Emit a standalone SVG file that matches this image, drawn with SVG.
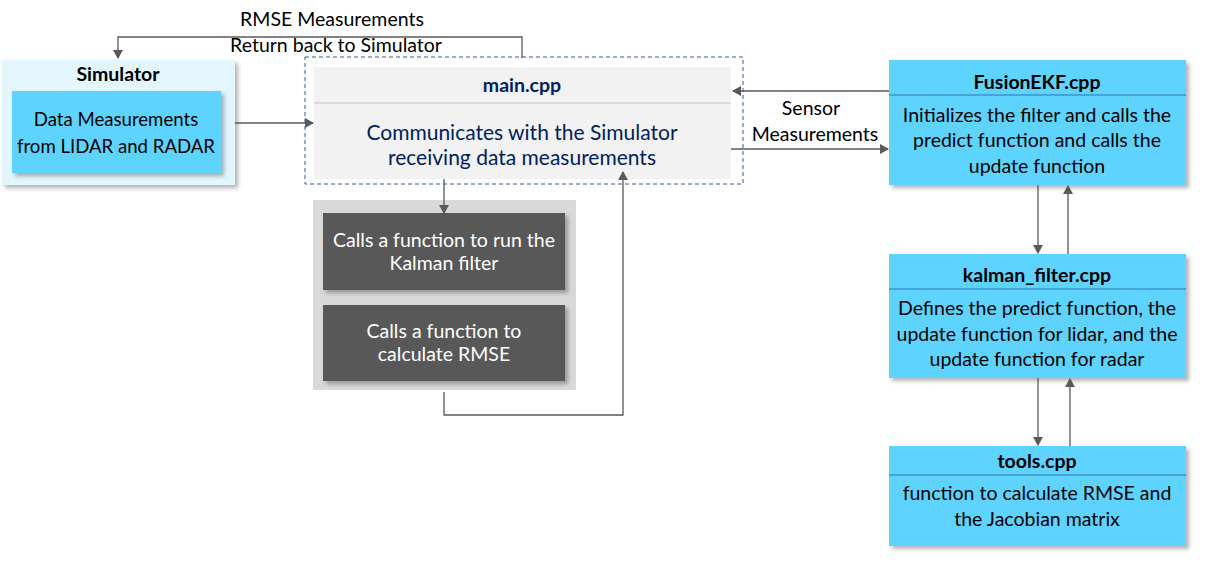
<svg xmlns="http://www.w3.org/2000/svg" width="1208" height="564" viewBox="0 0 1208 564">
<style>
text{font-family:Lato,"Open Sans","Liberation Sans",sans-serif;text-anchor:middle}
.t{font-size:19.5px;fill:#000}
.s{font-size:18.6px;fill:#000}
.b{font-size:19.5px;font-weight:bold;fill:#000}
.w{font-size:19.5px;fill:#fff}
.n{font-size:21px;fill:#002060}
.nb{font-size:19.5px;font-weight:bold;fill:#002060}
.c{fill:none;stroke:#595959;stroke-width:1.3}
.blue{fill:#5DD3FE}
.div{stroke:#2E75B6;stroke-width:1.2}
</style>
<defs>
<marker id="ah" markerWidth="10" markerHeight="10" refX="8" refY="5" orient="auto" markerUnits="userSpaceOnUse">
<path d="M0,0 L9,5 L0,10 Z" fill="#595959"/>
</marker>
<filter id="sh" x="-5%" y="-5%" width="115%" height="120%">
<feDropShadow dx="3" dy="3" stdDeviation="2" flood-color="#000" flood-opacity="0.3"/>
</filter>
</defs>
<rect width="1208" height="564" fill="#fff"/>

<g id="simulator">
<rect x="2" y="60" width="233" height="125" fill="#E3F5FD" filter="url(#sh)"/>
<text class="b" x="118" y="81">Simulator</text>
<rect x="12" y="91" width="209" height="82" class="blue" filter="url(#sh)"/>
<text class="s" x="116" y="126">Data Measurements</text>
<text class="s" x="116" y="153">from LIDAR and RADAR</text>
</g>

<g id="main">
<rect x="305" y="57" width="438" height="127" fill="none" stroke="#2E5C9E" stroke-width="1" stroke-dasharray="4,3"/>
<rect x="314" y="67" width="417" height="112" fill="#F2F2F2"/>
<line x1="314" y1="103" x2="731" y2="103" stroke="#BFBFBF" stroke-width="1.2"/>
<text class="nb" x="522" y="92">main.cpp</text>
<text class="n" x="522" y="140">Communicates with the Simulator</text>
<text class="n" x="522" y="165">receiving data measurements</text>
</g>

<g id="calls">
<rect x="313" y="200" width="263" height="190" fill="#D9D9D9"/>
<g id="run-kalman">
<rect x="323" y="213" width="242" height="77" fill="#595959" filter="url(#sh)"/>
<text class="w" x="444" y="247">Calls a function to run the</text>
<text class="w" x="444" y="270">Kalman filter</text>
</g>
<g id="calc-rmse">
<rect x="323" y="305" width="242" height="76" fill="#595959" filter="url(#sh)"/>
<text class="w" x="444" y="338">Calls a function to</text>
<text class="w" x="444" y="361">calculate RMSE</text>
</g>
</g>

<g id="fusionekf">
<rect x="889" y="60" width="297" height="125" class="blue" filter="url(#sh)"/>
<line x1="889" y1="95" x2="1186" y2="95" class="div"/>
<text class="b" x="1037" y="89">FusionEKF.cpp</text>
<text class="t" x="1037" y="122">Initializes the filter and calls the</text>
<text class="t" x="1037" y="147">predict function and calls the</text>
<text class="t" x="1037" y="173">update function</text>
</g>

<g id="kalman_filter">
<rect x="889" y="254" width="297" height="124" class="blue" filter="url(#sh)"/>
<line x1="889" y1="289" x2="1186" y2="289" class="div"/>
<text class="b" x="1037" y="282">kalman_filter.cpp</text>
<text class="t" x="1037" y="315">Defines the predict function, the</text>
<text class="t" x="1037" y="341">update function for lidar, and the</text>
<text class="t" x="1037" y="366">update function for radar</text>
</g>

<g id="tools">
<rect x="889" y="446" width="297" height="100" class="blue" filter="url(#sh)"/>
<line x1="889" y1="475" x2="1186" y2="475" class="div"/>
<text class="b" x="1037" y="468">tools.cpp</text>
<text class="t" x="1037" y="500">function to calculate RMSE and</text>
<text class="t" x="1037" y="526">the Jacobian matrix</text>
</g>

<g id="connectors">
<path class="c" d="M522,58 V37 H118 V58" marker-end="url(#ah)"/>
<path class="c" d="M235,123 H313" marker-end="url(#ah)"/>
<path class="c" d="M889,91 H733" marker-end="url(#ah)"/>
<path class="c" d="M731,149 H888" marker-end="url(#ah)"/>
<path class="c" d="M444,179 V213" marker-end="url(#ah)"/>
<path class="c" d="M444,392 V415 H623 V172" marker-end="url(#ah)"/>
<path class="c" d="M1038,185 V253" marker-end="url(#ah)"/>
<path class="c" d="M1068,254 V186" marker-end="url(#ah)"/>
<path class="c" d="M1038,378 V445" marker-end="url(#ah)"/>
<path class="c" d="M1070,446 V379" marker-end="url(#ah)"/>
<text class="t" x="332" y="26">RMSE Measurements</text>
<text class="t" x="336" y="52">Return back to Simulator</text>
<text class="t" x="811" y="115">Sensor</text>
<text class="t" x="815" y="141">Measurements</text>
</g>
</svg>
